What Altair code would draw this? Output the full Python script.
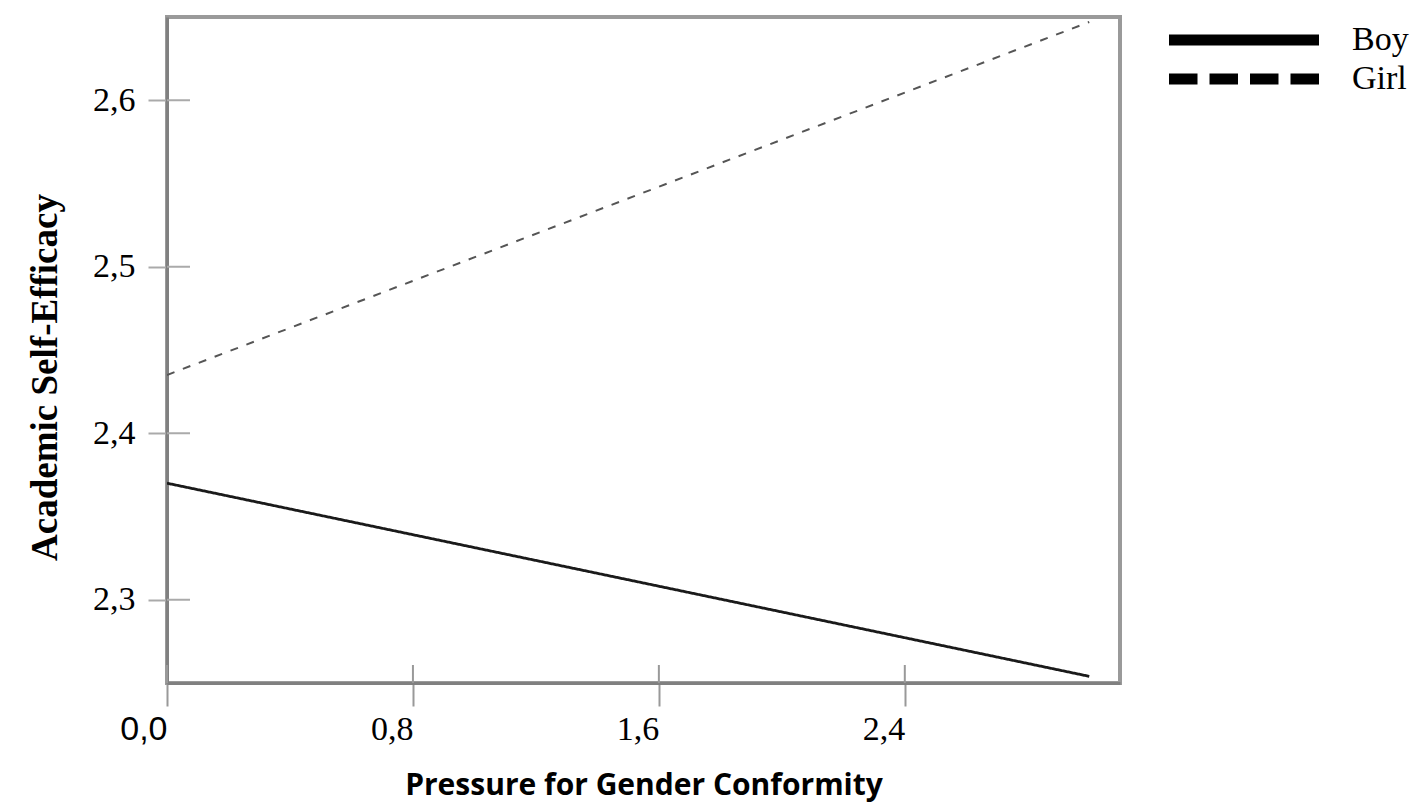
import altair as alt
import pandas as pd

groups = ["Boy", "Boy", "Girl", "Girl"]
pressure = [0.0, 3.0, 0.0, 3.0]
efficacy = [2.370, 2.254, 2.435, 2.647]

x_ticks = [0.0, 0.8, 1.6, 2.4]
y_ticks = [2.3, 2.4, 2.5, 2.6]

df = pd.DataFrame({"group": groups, "pressure": pressure, "efficacy": efficacy})
xt_df = pd.DataFrame({"pressure": x_ticks})
yt_df = pd.DataFrame({"efficacy": y_ticks})

serif = "Liberation Serif"
label_expr = "replace(format(datum.value, '.1f'), '.', ',')"

x_scale = alt.Scale(domain=[0, 3.1], nice=False, zero=False)
y_scale = alt.Scale(domain=[2.25, 2.65], nice=False, zero=False)

x_axis = alt.Axis(
    values=x_ticks,
    labelExpr=label_expr,
    title="Pressure for Gender Conformity",
    titleFont="Open Sans",
    titleFontSize=30,
    titleFontWeight="bold",
    titleColor="#000",
    titlePadding=24,
    labelFont={"condition": {"test": "datum.value == 0", "value": "Liberation Sans"}, "value": serif},
    labelFontSize=34,
    labelColor="#000",
    labelAlign="right",
    labelPadding=6,
    tickSize=23,
    tickColor="#999",
    tickWidth=2,
    domainColor="#808080",
    domainWidth=3,
    grid=False,
)
y_axis = alt.Axis(
    values=y_ticks,
    labelExpr=label_expr,
    title="Academic Self-Efficacy",
    titleFont=serif,
    titleFontSize=37,
    titleFontWeight="bold",
    titleColor="#000",
    titlePadding=28,
    titleY=360,
    labelFont=serif,
    labelFontSize=34,
    labelColor="#000",
    labelPadding=13,
    tickSize=19,
    tickColor="#aaa",
    tickWidth=2,
    domainColor="#808080",
    domainWidth=3,
    grid=False,
)

base = alt.Chart(df)

lines = base.mark_line(clip=True).encode(
    x=alt.X("pressure:Q", scale=x_scale, axis=x_axis),
    y=alt.Y("efficacy:Q", scale=y_scale, axis=y_axis),
    color=alt.Color(
        "group:N",
        scale=alt.Scale(domain=["Boy", "Girl"], range=["#1a1a1a", "#555555"]),
        legend=None,
    ),
    strokeWidth=alt.StrokeWidth(
        "group:N",
        scale=alt.Scale(domain=["Boy", "Girl"], range=[2.8, 2]),
        legend=None,
    ),
    strokeDash=alt.StrokeDash(
        "group:N",
        scale=alt.Scale(domain=["Boy", "Girl"], range=[[1, 0], [8, 9]]),
        legend=None,
    ),
)

legend_layer = base.mark_line(strokeOpacity=0, color="#000").encode(
    x=alt.X("pressure:Q", scale=x_scale),
    y=alt.Y("efficacy:Q", scale=y_scale),
    strokeDash=alt.StrokeDash(
        "group:N",
        scale=alt.Scale(domain=["Boy", "Girl"], range=[[1, 0], [28.5, 12]]),
        legend=alt.Legend(
            title=None,
            orient="none",
            legendX=1060,
            legendY=6,
            symbolType="M-10,0H10",
            symbolSize=225,
            symbolStrokeWidth=11,
            symbolStrokeColor="#000",
            symbolOpacity=1,
            labelFont=serif,
            labelFontSize=34,
            labelColor="#000",
            labelOffset=91,
            rowPadding=-10,
            padding=0,
        ),
    ),
)

y_inner = alt.Chart(yt_df).mark_rule(color="#aaa", strokeWidth=2).encode(
    y=alt.Y("efficacy:Q", scale=y_scale),
    x=alt.value(0),
    x2=alt.value(23),
)
x_inner = alt.Chart(xt_df).mark_rule(color="#999", strokeWidth=2).encode(
    x=alt.X("pressure:Q", scale=x_scale),
    y=alt.value(666),
    y2=alt.value(648),
)

chart = alt.layer(y_inner, x_inner, lines, legend_layer).resolve_scale(
    strokeDash="independent"
).properties(
    width=953,
    height=666,
    autosize=alt.AutoSizeParams(type="none"),
    padding={"left": 159, "top": 9, "right": 300, "bottom": 121},
    view=alt.ViewBackground(stroke="#9a9a9a", strokeWidth=4),
).configure_view(
    stroke="#9a9a9a",
    strokeWidth=4,
).configure(background="white")

chart.save("out.html", embed_options={"renderer": "svg", "actions": False})
